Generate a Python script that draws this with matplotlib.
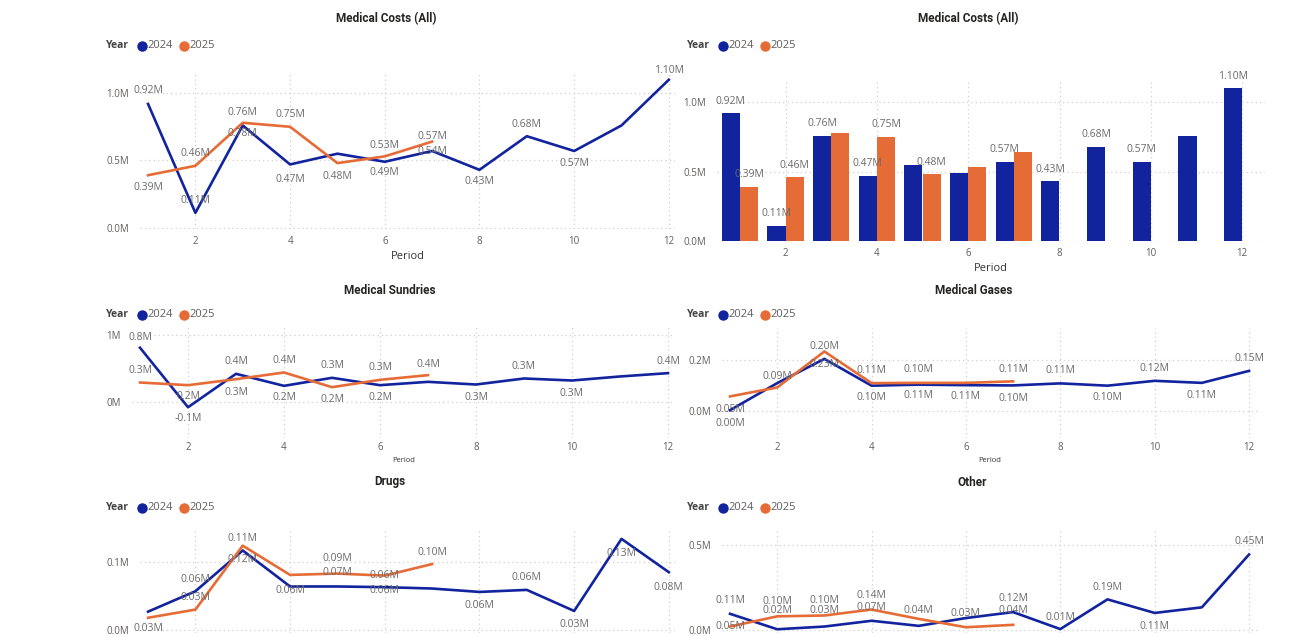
import numpy as np
import matplotlib.pyplot as plt
from matplotlib.lines import Line2D

plt.rcParams['font.family'] = ['Open Sans', 'DejaVu Sans']

W, H = 1316, 636
BLUE = '#12239E'
ORANGE = '#E66C37'
TICK = '#605E5C'
LABEL = '#6B6B6B'
GRID = '#D0D0D0'

periods = np.arange(1, 13)
xticks = [2, 4, 6, 8, 10, 12]

# Medical Costs (All), in millions
mc_24 = [0.92, 0.11, 0.76, 0.47, 0.55, 0.49, 0.57, 0.43, 0.68, 0.57, 0.76, 1.10]
mc_25 = [0.39, 0.46, 0.78, 0.75, 0.48, 0.53, 0.64]
mc_line_lab_24 = ['0.92M', '0.11M', '0.78M', '0.47M', None, '0.49M', '0.54M', '0.43M', '0.68M', '0.57M', None, '1.10M']
mc_line_lab_25 = ['0.39M', '0.46M', '0.76M', '0.75M', '0.48M', '0.53M', '0.57M']
mc_bar_lab_24 = ['0.92M', '0.11M', '0.76M', '0.47M', None, None, '0.57M', '0.43M', '0.68M', '0.57M', None, '1.10M']
mc_bar_lab_25 = ['0.39M', '0.46M', None, '0.75M', '0.48M', None, None]

# Medical Sundries
su_24 = [0.81, -0.08, 0.42, 0.24, 0.36, 0.25, 0.30, 0.26, 0.35, 0.32, 0.38, 0.43]
su_25 = [0.29, 0.25, 0.34, 0.44, 0.22, 0.33, 0.40]
su_lab_24 = ['0.8M', '-0.1M', '0.4M', '0.2M', '0.3M', '0.2M', None, '0.3M', '0.3M', '0.3M', None, '0.4M']
su_lab_25 = ['0.3M', '0.2M', '0.3M', '0.4M', '0.2M', '0.3M', '0.4M']

# Medical Gases
ga_24 = [0.003, 0.109, 0.204, 0.099, 0.103, 0.101, 0.100, 0.108, 0.099, 0.118, 0.110, 0.157]
ga_25 = [0.057, 0.092, 0.233, 0.109, 0.110, 0.110, 0.116]
ga_lab_24 = ['0.00M', None, '0.20M', '0.10M', '0.11M', '0.11M', '0.10M', '0.11M', '0.10M', '0.12M', '0.11M', '0.15M']
ga_lab_25 = ['0.05M', '0.09M', '0.23M', '0.11M', '0.10M', None, '0.11M']

# Drugs
dr_24 = [0.027, 0.057, 0.117, 0.064, 0.064, 0.063, 0.061, 0.056, 0.059, 0.028, 0.134, 0.085]
dr_25 = [0.018, 0.030, 0.124, 0.081, 0.083, 0.080, 0.097]
dr_lab_24 = [None, '0.06M', '0.11M', '0.06M', '0.07M', '0.06M', None, '0.06M', '0.06M', '0.03M', '0.13M', '0.08M']
dr_lab_25 = ['0.03M', '0.03M', '0.12M', None, '0.09M', '0.06M', '0.10M']

# Other
ot_24 = [0.095, 0.004, 0.020, 0.054, 0.024, 0.070, 0.105, 0.005, 0.180, 0.100, 0.133, 0.444]
ot_25 = [0.020, 0.080, 0.085, 0.120, 0.065, 0.016, 0.030]
ot_lab_24 = ['0.11M', '0.02M', '0.03M', '0.07M', '0.04M', None, '0.12M', '0.01M', '0.19M', '0.11M', None, '0.45M']
ot_lab_25 = ['0.05M', '0.10M', '0.10M', '0.14M', None, '0.03M', '0.04M']

# label offsets (pixels, + above / - below the point)
mc_dy_24 = [13, 12, -8, -15, 0, -11, 0, -12, 12, -12, 0, 9]
mc_dy_25 = [-12, 12, 10, 12, -13, 11, 5]
su_dy_24 = [10, -11, 12, -12, 12, -12, 0, -13, 12, -13, 0, 12]
su_dy_25 = [12, -11, -13, 12, -12, 12, 11]
ga_dy_24 = [-13, 0, 12, -12, -11, -11, -13, 13, -12, 12, -13, 12]
ga_dy_25 = [-13, 11, -13, 13, 13, 0, 12]
dr_dy_24 = [0, 12, 12, -4, 14, 12, 0, -14, 12, -14, -15, -15]
dr_dy_25 = [-11, 12, -14, 0, 15, -15, 12]
ot_dy_24 = [13, 19, 16, 13, 15, 0, 14, 12, 12, -14, 0, 13]
ot_dy_25 = [0, 15, 15, 14, 0, 14, 14]

fig = plt.figure(figsize=(W / 100, H / 100), dpi=100)
fig.patch.set_facecolor('white')


def px_axes(x0, x1, y0, y1):
    return fig.add_axes([x0 / W, 1 - y1 / H, (x1 - x0) / W, (y1 - y0) / H])


def style_axes(ax, xlim, ylim, yticks, ylabels, xpad, xlabel_size):
    ax.set_xlim(*xlim)
    ax.set_ylim(*ylim)
    for s in ax.spines.values():
        s.set_visible(False)
    ax.set_xticks(xticks)
    ax.set_yticks(yticks)
    ax.set_yticklabels(ylabels)
    ax.tick_params(length=0, labelsize=7, labelcolor=TICK)
    ax.tick_params(axis='x', pad=xpad)
    ax.tick_params(axis='y', pad=8)
    ax.grid(True, color=GRID, linestyle=(0, (1, 2.5)), linewidth=0.9)
    ax.set_axisbelow(True)
    if xlabel_size:
        ax.set_xlabel('Period', fontsize=xlabel_size, color='#333333', labelpad=3)


def add_labels(ax, xs, vals, labs, dys):
    for x, v, t, d in zip(xs, vals, labs, dys):
        if t:
            ax.annotate(t, (x, v), xytext=(0, d * 0.72), textcoords='offset points',
                        ha='center', va='center', fontsize=7.5, color=LABEL)


def draw_lines(ax, v24, v25, l24, d24, l25, d25):
    x24 = periods[:len(v24)]
    x25 = periods[:len(v25)]
    ax.plot(x24, v24, color=BLUE, lw=1.9)
    ax.plot(x25, v25, color=ORANGE, lw=1.9)
    add_labels(ax, x24, v24, l24, d24)
    add_labels(ax, x25, v25, l25, d25)


def header(title, cx, ty, lx, ly):
    fig.text(cx / W, 1 - ty / H, title, ha='center', va='center', fontsize=8.5,
             fontweight='bold', color='#252423', family=['Roboto', 'DejaVu Sans'])
    fig.text(lx / W, 1 - ly / H, 'Year', ha='left', va='center', fontsize=7.5,
             fontweight='bold', color='#444444')
    for dx, col, yr in [(36, BLUE, '2024'), (78, ORANGE, '2025')]:
        fig.add_artist(Line2D([(lx + dx) / W], [1 - ly / H], marker='o', markersize=6.5,
                              color=col, transform=fig.transFigure))
        fig.text((lx + dx + 5) / W, 1 - ly / H, yr, ha='left', va='center',
                 fontsize=8, color=TICK)


# top left: line
ax1 = px_axes(140, 675, 73, 229)
style_axes(ax1, (0.83, 12.13), (-0.01, 1.15), [0, 0.5, 1.0], ['0.0M', '0.5M', '1.0M'], 5, 8)
draw_lines(ax1, mc_24, mc_25, mc_line_lab_24, mc_dy_24, mc_line_lab_25, mc_dy_25)
header('Medical Costs (All)', 386, 19, 106, 46)

# top right: clustered bars
ax2 = px_axes(717, 1265, 80, 241)
style_axes(ax2, (0.5, 12.5), (0, 1.16), [0, 0.5, 1.0], ['0.0M', '0.5M', '1.0M'], 5, 8)
ax2.bar(periods - 0.2, mc_24, width=0.4, color=BLUE)
ax2.bar(periods[:len(mc_25)] + 0.2, mc_25, width=0.4, color=ORANGE)
add_labels(ax2, periods - 0.2, mc_24, mc_bar_lab_24, [12] * 12)
add_labels(ax2, periods[:len(mc_25)] + 0.2, mc_25, mc_bar_lab_25, [12] * 7)
header('Medical Costs (All)', 968, 19, 687, 46)

# middle left: sundries
ax3 = px_axes(132, 675, 325, 438)
style_axes(ax3, (0.833, 12.146), (-0.54, 1.15), [0, 1], ['0M', '1M'], 3, 5.5)
draw_lines(ax3, su_24, su_25, su_lab_24, su_dy_24, su_lab_25, su_dy_25)
header('Medical Sundries', 390, 290, 106, 315)

# middle right: gases
ax4 = px_axes(722, 1258, 328, 438)
style_axes(ax4, (0.83, 12.19), (-0.106, 0.325), [0, 0.2], ['0.0M', '0.2M'], 3, 5.5)
draw_lines(ax4, ga_24, ga_25, ga_lab_24, ga_dy_24, ga_lab_25, ga_dy_25)
header('Medical Gases', 974, 290, 687, 315)

# bottom row: the x axis falls below the visible area
ax5 = px_axes(140, 675, 528, 633)
style_axes(ax5, (0.83, 12.13), (-0.0044, 0.15), [0, 0.1], ['0.0M', '0.1M'], 6, None)
draw_lines(ax5, dr_24, dr_25, dr_lab_24, dr_dy_24, dr_lab_25, dr_dy_25)
header('Drugs', 390, 482, 106, 508)

ax6 = px_axes(722, 1258, 528, 633)
style_axes(ax6, (0.83, 12.19), (-0.018, 0.6), [0, 0.5], ['0.0M', '0.5M'], 6, None)
draw_lines(ax6, ot_24, ot_25, ot_lab_24, ot_dy_24, ot_lab_25, ot_dy_25)
header('Other', 972, 482, 687, 508)

fig.savefig('out.png', dpi=100)
